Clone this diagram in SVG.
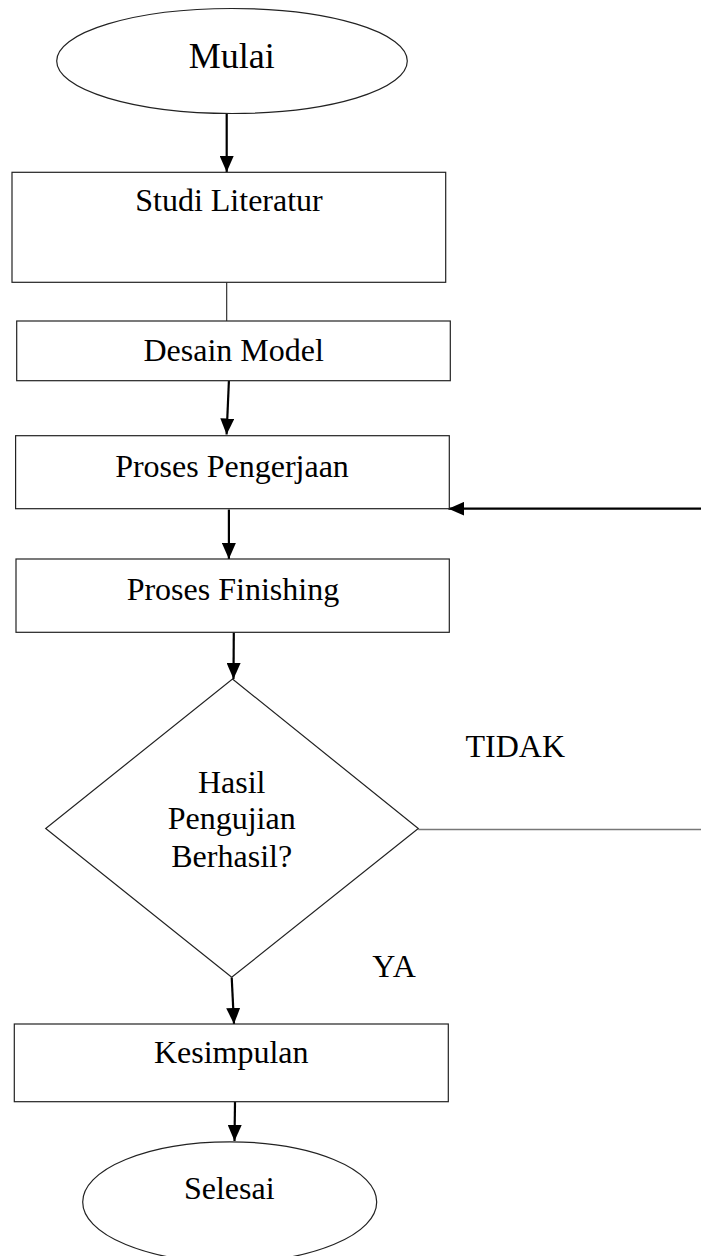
<svg xmlns="http://www.w3.org/2000/svg" width="701" height="1256" viewBox="0 0 701 1256">
<style>
.shape{fill:#fff;stroke:#222;stroke-width:1.2}
.lbl{font-family:"Liberation Serif","Times New Roman",serif;font-size:32px;fill:#000;text-anchor:middle}
.arr{stroke:#000;stroke-width:2.2;fill:none;marker-end:url(#ah)}
.thin{stroke:#222;stroke-width:1.1;fill:none}
</style>
<defs>
<marker id="ah" viewBox="0 0 16 14" refX="16" refY="7" markerWidth="16" markerHeight="14" markerUnits="userSpaceOnUse" orient="auto">
<path d="M0,0 L16,7 L0,14 Z" fill="#000"/>
</marker>
</defs>
<rect width="701" height="1256" fill="#fff"/>
<g id="connectors">
<line class="arr" x1="226.7" y1="113.5" x2="226.7" y2="172"/>
<line class="thin" x1="226.7" y1="282.3" x2="226.7" y2="321"/>
<line class="arr" x1="228.9" y1="381" x2="226.6" y2="434.5"/>
<line class="arr" x1="228.9" y1="509.5" x2="228.9" y2="559"/>
<line class="arr" x1="233.8" y1="632.5" x2="233.5" y2="679"/>
<line class="thin" x1="418.3" y1="829.5" x2="701" y2="829.5" style="stroke:#777;stroke-width:1.5"/>
<line class="arr" x1="701" y1="508.7" x2="448.4" y2="508.7"/>
<line class="arr" x1="231.7" y1="977.5" x2="234" y2="1024"/>
<line class="arr" x1="235" y1="1102" x2="234.5" y2="1141"/>
</g>
<g id="mulai">
<ellipse class="shape" cx="232" cy="61" rx="175.3" ry="52.5"/>
<text class="lbl" x="231.7" y="68" style="font-size:36px">Mulai</text>
</g>
<g id="studi-literatur">
<rect class="shape" x="12" y="172.3" width="433.7" height="110"/>
<text class="lbl" x="229" y="210.7">Studi Literatur</text>
</g>
<g id="desain-model">
<rect class="shape" x="16.7" y="321" width="433.6" height="59.7"/>
<text class="lbl" x="233.7" y="360.7">Desain Model</text>
</g>
<g id="proses-pengerjaan">
<rect class="shape" x="15.6" y="435.7" width="433.7" height="73"/>
<text class="lbl" x="232" y="476.7">Proses Pengerjaan</text>
</g>
<g id="proses-finishing">
<rect class="shape" x="16" y="559" width="433.3" height="73.3"/>
<text class="lbl" x="232.9" y="600">Proses Finishing</text>
</g>
<g id="keputusan">
<polygon class="shape" points="232.5,679 418.3,828.5 231.7,977.3 45.7,828.5"/>
<text class="lbl" x="231.7" y="792.7">Hasil</text>
<text class="lbl" x="231.7" y="829.3">Pengujian</text>
<text class="lbl" x="231.7" y="867.3">Berhasil?</text>
</g>
<g id="label-tidak">
<text class="lbl" x="515.3" y="757.3">TIDAK</text>
</g>
<g id="label-ya">
<text class="lbl" x="394.5" y="977.3" style="letter-spacing:1px">YA</text>
</g>
<g id="kesimpulan">
<rect class="shape" x="14.3" y="1024" width="434" height="77.7"/>
<text class="lbl" x="231.2" y="1063.3">Kesimpulan</text>
</g>
<g id="selesai">
<ellipse class="shape" cx="229.7" cy="1202" rx="147" ry="60.2"/>
<text class="lbl" x="229.2" y="1199.3">Selesai</text>
</g>
</svg>
